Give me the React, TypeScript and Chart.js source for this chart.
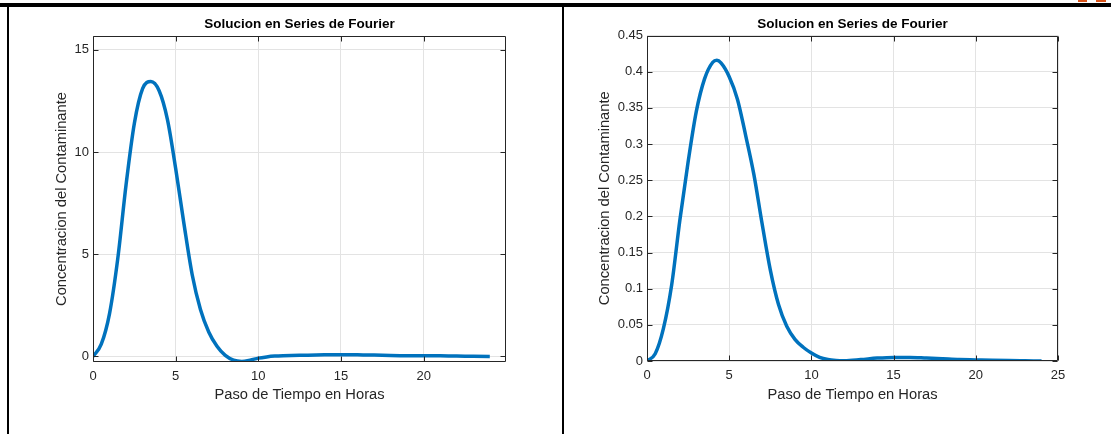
import React, { useEffect, useRef } from "react";
import { Chart, registerables } from "chart.js";

Chart.register(...registerables);

// ---------- data ----------
const HOURS_LEFT = [
  0, 0.5, 1, 1.5, 2, 2.5, 3, 3.5, 4, 4.5, 5, 5.5, 6, 6.5, 7, 7.5, 8, 8.5, 9, 9.5, 10, 10.5, 11, 11.5, 12,
  13, 14, 15, 16, 17, 18, 19, 20, 21, 22, 23, 24,
];
const CONC_LEFT = [
  0, 0.6, 2.1, 4.8, 8.4, 11.4, 13.1, 13.45, 13.0, 11.6, 9.2, 6.5, 4.0, 2.3, 1.2, 0.5, 0.05, -0.18, -0.24, -0.18,
  -0.08, -0.02, 0.02, 0.04, 0.05,
  0.06, 0.08, 0.09, 0.08, 0.07, 0.05, 0.04, 0.04, 0.03, 0.02, 0.01, 0.0,
];
const HOURS_RIGHT = [
  0, 0.5, 1, 1.5, 2, 2.5, 3, 3.5, 4, 4.25, 4.5, 5, 5.5, 6, 6.5, 7, 7.5, 8, 8.5, 9, 9.5, 10, 10.5, 11, 11.5, 12,
  13, 14, 15, 16, 17, 18, 19, 20, 21, 22, 23, 24,
];
const CONC_RIGHT = [
  0, 0.01, 0.045, 0.105, 0.195, 0.275, 0.345, 0.39, 0.413, 0.4158, 0.412, 0.393, 0.362, 0.312, 0.258, 0.19, 0.126,
  0.078, 0.048, 0.03, 0.019, 0.011, 0.005, 0.002, 0.0008, 0.0005,
  0.002, 0.004, 0.005, 0.005, 0.004, 0.003, 0.002, 0.0015, 0.001, 0.0006, 0.0003, 0,
];
const X_TICKS_LEFT = [0, 5, 10, 15, 20];
const X_TICKS_RIGHT = [0, 5, 10, 15, 20, 25];
const Y_TICKS_LEFT = [0, 5, 10, 15];
const Y_TICKS_RIGHT = [0, 0.05, 0.1, 0.15, 0.2, 0.25, 0.3, 0.35, 0.4, 0.45];

const TITLE = "Solucion en Series de Fourier";
const X_LABEL = "Paso de Tiempo en Horas";
const Y_LABEL = "Concentracion del Contaminante";

// ---------- style ----------
const FONT = "'Liberation Sans', Arial, Helvetica, sans-serif";
const TEXT = "#262626";
const GRID = "#e3e3e3";
const LINE = "#0072BD";
const LABEL_SIZE = 14.7;
const TICK_SIZE = 13;
const TITLE_SIZE = 13.5;

type Spec = {
  w: number;
  h: number;
  l: number;
  r: number;
  t: number;
  b: number;
  xMax: number;
  yMin: number;
  yMax: number;
  xTicks: number[];
  yTicks: number[];
  xs: number[];
  values: number[];
  yTitlePad: number;
};

const boxPlugin = {
  id: "matlabBox",
  afterDraw(chart: any) {
    const { ctx, chartArea } = chart;
    const { left, right, top, bottom } = chartArea;
    const xs = chart.scales.x;
    const ys = chart.scales.y;
    ctx.save();
    ctx.strokeStyle = TEXT;
    ctx.lineWidth = 1;
    ctx.beginPath();
    const L = Math.round(left) + 0.5;
    const R = Math.round(right) - 0.5;
    const T = Math.round(top) + 0.5;
    const B = Math.round(bottom) - 0.5;
    ctx.rect(L, T, R - L, B - T);
    const len = 5;
    xs.ticks.forEach((tk: any) => {
      const p = Math.round(xs.getPixelForValue(tk.value)) + 0.5;
      ctx.moveTo(p, B);
      ctx.lineTo(p, B - len);
      ctx.moveTo(p, T);
      ctx.lineTo(p, T + len);
    });
    ys.ticks.forEach((tk: any) => {
      const p = Math.round(ys.getPixelForValue(tk.value)) + 0.5;
      ctx.moveTo(L, p);
      ctx.lineTo(L + len, p);
      ctx.moveTo(R, p);
      ctx.lineTo(R - len, p);
    });
    ctx.stroke();
    ctx.restore();
  },
};

function fmt(v: number) {
  return String(Number(v.toFixed(2)));
}

function buildConfig(s: Spec): any {
  const titleLH = TITLE_SIZE * 1.2;
  return {
    type: "line",
    data: {
      datasets: [
        {
          data: s.xs.map((x, i) => ({ x, y: s.values[i] })),
          borderColor: LINE,
          backgroundColor: LINE,
          borderWidth: 3.5,
          pointRadius: 0,
          cubicInterpolationMode: "monotone",
          fill: false,
        },
      ],
    },
    options: {
      responsive: false,
      animation: false,
      devicePixelRatio: 1,
      layout: { padding: { left: 0, right: s.w - s.r, top: 0, bottom: 0 } },
      plugins: {
        legend: { display: false },
        tooltip: { enabled: false },
        title: {
          display: true,
          text: TITLE,
          fullSize: false,
          color: "#000",
          font: { family: FONT, size: TITLE_SIZE, weight: "bold" },
          padding: { top: 10.5, bottom: s.t - 10.5 - titleLH },
        },
      },
      scales: {
        x: {
          type: "linear",
          min: 0,
          max: s.xMax,
          afterBuildTicks: (sc: any) => {
            sc.ticks = s.xTicks.map((v) => ({ value: v }));
          },
          afterFit: (sc: any) => {
            sc.height = s.h - s.b;
          },
          grid: { color: GRID, drawTicks: false, lineWidth: 1 },
          border: { display: false },
          ticks: {
            color: TEXT,
            font: { family: FONT, size: TICK_SIZE },
            padding: 7,
            maxRotation: 0,
            callback: (v: number) => fmt(v),
          },
          title: {
            display: true,
            text: X_LABEL,
            color: TEXT,
            font: { family: FONT, size: LABEL_SIZE },
            padding: { top: 0, bottom: s.h - 388.5 - (LABEL_SIZE * 1.2) / 2 },
          },
        },
        y: {
          type: "linear",
          min: s.yMin,
          max: s.yMax,
          afterBuildTicks: (sc: any) => {
            sc.ticks = s.yTicks.map((v) => ({ value: v }));
          },
          afterFit: (sc: any) => {
            sc.width = s.l;
          },
          grid: { color: GRID, drawTicks: false, lineWidth: 1 },
          border: { display: false },
          ticks: {
            color: TEXT,
            font: { family: FONT, size: TICK_SIZE },
            padding: 4,
            callback: (v: number) => fmt(v),
          },
          title: {
            display: true,
            text: Y_LABEL,
            color: TEXT,
            font: { family: FONT, size: LABEL_SIZE },
            padding: { top: s.yTitlePad, bottom: 0 },
          },
        },
      },
    },
    plugins: [boxPlugin],
  };
}

function Panel({ spec, left }: { spec: Spec; left: number }) {
  const ref = useRef<HTMLCanvasElement | null>(null);
  useEffect(() => {
    if (!ref.current) return;
    const chart = new Chart(ref.current, buildConfig(spec));
    return () => chart.destroy();
  }, []);
  return (
    <canvas
      ref={ref}
      width={spec.w}
      height={spec.h}
      style={{ position: "absolute", left, top: 6, width: spec.w, height: spec.h }}
    />
  );
}

const LEFT_SPEC: Spec = {
  w: 550,
  h: 428,
  l: 83,
  r: 496,
  t: 30,
  b: 356,
  xMax: 24.98,
  yMin: -0.27,
  yMax: 15.68,
  xTicks: X_TICKS_LEFT,
  yTicks: Y_TICKS_LEFT,
  xs: HOURS_LEFT,
  values: CONC_LEFT,
  yTitlePad: 52 - (LABEL_SIZE * 1.2) / 2,
};

const RIGHT_SPEC: Spec = {
  w: 546,
  h: 428,
  l: 82,
  r: 493,
  t: 29.5,
  b: 355,
  xMax: 25,
  yMin: 0,
  yMax: 0.45,
  xTicks: X_TICKS_RIGHT,
  yTicks: Y_TICKS_RIGHT,
  xs: HOURS_RIGHT,
  values: CONC_RIGHT,
  yTitlePad: 40 - (LABEL_SIZE * 1.2) / 2,
};

export default function App() {
  return (
    <div
      style={{
        position: "fixed",
        left: 0,
        top: 0,
        width: 1111,
        height: 434,
        background: "#fff",
        overflow: "hidden",
      }}
    >
      <Panel spec={LEFT_SPEC} left={10} />
      <Panel spec={RIGHT_SPEC} left={565} />
      {/* frame lines */}
      <div style={{ position: "absolute", left: 0, top: 3, width: 1111, height: 4, background: "#000" }} />
      <div style={{ position: "absolute", left: 7, top: 3, width: 2, height: 431, background: "#000" }} />
      <div style={{ position: "absolute", left: 562, top: 3, width: 2, height: 431, background: "#000" }} />
      <div style={{ position: "absolute", left: 1078, top: 0, width: 9, height: 2, background: "#d95319" }} />
      <div style={{ position: "absolute", left: 1096, top: 0, width: 10, height: 2, background: "#d95319" }} />
    </div>
  );
}
